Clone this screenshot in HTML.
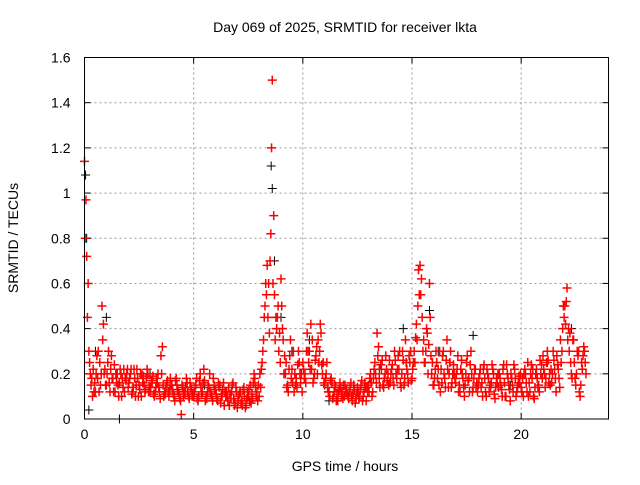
<!DOCTYPE html>
<html><head><meta charset="utf-8"><style>
body{margin:0;background:#fff}
svg text{font-family:"Liberation Sans",sans-serif;font-size:14px;fill:#000}
</style></head><body>
<svg id="chart" width="640" height="480" xmlns="http://www.w3.org/2000/svg">
<text x="345" y="32" text-anchor="middle">Day 069 of 2025, SRMTID for receiver lkta</text>
<text transform="translate(18,238) rotate(-90)" text-anchor="middle">SRMTID / TECUs</text>
<text x="345" y="471" text-anchor="middle">GPS time / hours</text>
<g id="grid"></g>
<g id="ticks"></g>
<g id="black" stroke="#000" stroke-width="1"></g>
<g id="red" stroke="#f00" stroke-width="1.5"></g>
<rect x="84.5" y="57.5" width="524" height="361.5" fill="none" stroke="#000" stroke-width="1"/>
</svg>
<script>
const xTicks=[0,5,10,15,20];
const yTicks=[0,0.2,0.4,0.6,0.8,1,1.2,1.4,1.6];
const yTickLabels=["0","0.2","0.4","0.6","0.8","1","1.2","1.4","1.6"];
const redA=[1.14,0.72,0.3,0.15,0.22,0.12,0.18,0.25,0.5,0.2,
0.15,0.3,0.22,0.18,0.12,0.2,0.16,0.1,0.22,0.17,
0.14,0.2,0.12,0.18,0.22,0.15,0.1,0.19,0.13,0.2,
0.12,0.16,0.1,0.18,0.14,0.28,0.15,0.11,0.17,0.13,
0.15,0.1,0.18,0.12,0.08,0.14,0.11,0.16,0.09,0.13,
0.1,0.15,0.08,0.2,0.12,0.17,0.09,0.14,0.11,0.18,
0.13,0.08,0.15,0.1,0.06,0.12,0.14,0.09,0.16,0.07,
0.05,0.11,0.08,0.14,0.06,0.1,0.15,0.09,0.18,0.12,
0.1,0.22,0.35,0.6,0.45,0.7,1.5,0.55,0.4,0.3,
0.62,0.35,0.2,0.15,0.28,0.22,0.12,0.18,0.3,0.16,
0.25,0.2,0.38,0.3,0.22,0.18,0.28,0.35,0.42,0.2,
0.15,0.25,0.12,0.18,0.1,0.14,0.08,0.16,0.12,0.1,
0.13,0.09,0.16,0.11,0.07,0.14,0.1,0.17,0.12,0.08,
0.15,0.2,0.12,0.25,0.38,0.18,0.22,0.14,0.28,0.2,
0.16,0.24,0.3,0.18,0.22,0.14,0.26,0.35,0.2,0.25,
0.18,0.3,0.42,0.66,0.55,0.3,0.25,0.38,0.6,0.2,
0.15,0.3,0.22,0.12,0.28,0.18,0.35,0.2,0.14,0.24,
0.16,0.28,0.12,0.2,0.1,0.25,0.18,0.3,0.14,0.22,
0.12,0.2,0.16,0.24,0.1,0.18,0.14,0.22,0.09,0.16,
0.2,0.13,0.24,0.1,0.18,0.08,0.15,0.22,0.12,0.19,
0.14,0.1,0.2,0.25,0.12,0.18,0.09,0.22,0.15,0.2,
0.28,0.14,0.3,0.2,0.16,0.26,0.12,0.22,0.35,0.4,
0.5,0.58,0.3,0.2,0.35,0.15,0.28,0.1,0.22,0.3];
const redB=[0.97,0.6,0.2,0.1,0.16,0.28,0.12,0.2,0.42,0.15,
0.25,0.12,0.18,0.24,0.16,0.1,0.2,0.14,0.18,0.22,
0.18,0.11,0.22,0.15,0.1,0.2,0.16,0.12,0.22,0.14,
0.17,0.11,0.14,0.2,0.09,0.32,0.12,0.16,0.1,0.15,
0.11,0.17,0.13,0.09,0.15,0.12,0.18,0.1,0.14,0.11,
0.14,0.09,0.17,0.11,0.22,0.1,0.15,0.12,0.08,0.13,
0.09,0.14,0.11,0.16,0.1,0.08,0.11,0.15,0.06,0.12,
0.1,0.07,0.13,0.05,0.12,0.08,0.11,0.2,0.1,0.15,
0.14,0.3,0.5,0.68,0.38,1.2,0.9,0.45,0.5,0.25,
0.4,0.28,0.14,0.22,0.18,0.3,0.15,0.24,0.2,0.12,
0.18,0.3,0.25,0.42,0.16,0.26,0.2,0.3,0.24,0.16,
0.2,0.12,0.17,0.09,0.15,0.11,0.13,0.1,0.15,0.12,
0.1,0.14,0.08,0.13,0.11,0.09,0.15,0.1,0.14,0.12,
0.18,0.1,0.22,0.16,0.32,0.24,0.15,0.2,0.17,0.26,
0.22,0.15,0.2,0.28,0.16,0.3,0.18,0.22,0.28,0.17,
0.25,0.36,0.5,0.68,0.45,0.25,0.4,0.33,0.28,0.15,
0.22,0.18,0.3,0.16,0.2,0.26,0.14,0.3,0.2,0.18,
0.22,0.15,0.26,0.14,0.2,0.17,0.24,0.12,0.22,0.16,
0.18,0.14,0.22,0.12,0.2,0.15,0.24,0.11,0.18,0.14,
0.15,0.22,0.1,0.2,0.13,0.18,0.24,0.1,0.16,0.2,
0.18,0.22,0.12,0.16,0.24,0.1,0.2,0.14,0.26,0.18,
0.2,0.25,0.16,0.22,0.3,0.18,0.24,0.14,0.3,0.45,
0.52,0.4,0.25,0.35,0.18,0.3,0.12,0.25,0.32,0.2];
const redC=[0.8,0.45,0.25,0.18,0.12,0.2,0.3,0.15,0.35,0.22,
0.2,0.16,0.28,0.12,0.2,0.15,0.22,0.18,0.12,0.2,
0.16,0.22,0.14,0.1,0.18,0.13,0.2,0.15,0.18,0.12,
0.14,0.19,0.12,0.16,0.12,0.2,0.1,0.14,0.12,0.18,
0.13,0.08,0.15,0.11,0.02,0.1,0.14,0.12,0.16,0.1,
0.12,0.18,0.1,0.14,0.16,0.08,0.12,0.2,0.1,0.15,
0.11,0.16,0.07,0.13,0.12,0.1,0.06,0.12,0.09,0.14,
0.08,0.12,0.06,0.1,0.09,0.13,0.07,0.16,0.14,0.08,
0.2,0.25,0.45,0.55,0.6,0.82,0.6,0.35,0.45,0.38,
0.5,0.2,0.25,0.12,0.35,0.16,0.2,0.14,0.25,0.2,
0.22,0.16,0.3,0.22,0.35,0.2,0.32,0.25,0.38,0.25,
0.18,0.14,0.1,0.16,0.12,0.08,0.12,0.14,0.09,0.15,
0.11,0.12,0.1,0.15,0.09,0.12,0.13,0.08,0.16,0.14,
0.12,0.16,0.18,0.2,0.28,0.14,0.26,0.18,0.22,0.15,
0.2,0.18,0.26,0.22,0.3,0.2,0.15,0.25,0.16,0.3,
0.22,0.25,0.35,0.55,0.62,0.35,0.3,0.2,0.45,0.25,
0.18,0.25,0.15,0.22,0.3,0.14,0.22,0.25,0.16,0.2,
0.2,0.12,0.22,0.18,0.15,0.28,0.12,0.2,0.18,0.14,
0.15,0.22,0.1,0.18,0.22,0.12,0.16,0.2,0.14,0.2,
0.18,0.1,0.16,0.24,0.15,0.2,0.12,0.18,0.14,0.16,
0.12,0.2,0.16,0.1,0.2,0.22,0.14,0.18,0.12,0.24,
0.22,0.18,0.26,0.15,0.2,0.22,0.28,0.18,0.25,0.5,
0.42,0.35,0.38,0.18,0.25,0.2,0.3,0.15,0.28,0.25];
const blackT=[0.05,0.1,0.2,0.5,1.0,1.6,3.0,5.5,8.55,8.6,8.7,9.0,9.5,10.3,11.2,13.5,14.6,15.8,16.2,17.8,19.5,21.2,22.3,22.8];
const blackV=[1.08,0.8,0.04,0.3,0.45,0.0,0.2,0.15,1.12,1.02,0.7,0.45,0.3,0.35,0.08,0.22,0.4,0.48,0.3,0.37,0.15,0.25,0.4,0.22];

const X0=84.5,X1=608.5,Y0=419,Y1=57.5;
const xs=t=>X0+(t/24)*(X1-X0);
const ys=v=>Y0-(v/1.6)*(Y0-Y1);
const NS="http://www.w3.org/2000/svg";
function mk(tag,attrs,parent){const e=document.createElementNS(NS,tag);for(const k in attrs)e.setAttribute(k,attrs[k]);parent.appendChild(e);return e;}
const grid=document.getElementById('grid'),ticks=document.getElementById('ticks');
xTicks.forEach(t=>{const x=xs(t);
 if(t>0){const g=mk('line',{x1:x,x2:x,y1:Y1,y2:Y0,stroke:'#999','stroke-dasharray':'2,3'},grid);
 
 }
 const l=mk('text',{x:x,y:Y0+20,'text-anchor':'middle'},ticks);l.textContent=t;
 
 
 mk('line',{x1:x,x2:x,y1:Y0,y2:Y0-6,stroke:'#000'},ticks);
 mk('line',{x1:x,x2:x,y1:Y1,y2:Y1+6,stroke:'#000'},ticks);
});
yTicks.forEach((v,i)=>{const y=ys(v);
 if(v>0&&v<1.6){const g=mk('line',{x1:X0,x2:X1,y1:y,y2:y,stroke:'#999','stroke-dasharray':'2,3'},grid);
 
 }
 const l=mk('text',{x:X0-14,y:y+5,'text-anchor':'end'},ticks);l.textContent=yTickLabels[i];
 
 
 mk('line',{x1:X0,x2:X0+6,y1:y,y2:y,stroke:'#000'},ticks);
 mk('line',{x1:X1,x2:X1-6,y1:y,y2:y,stroke:'#000'},ticks);
});
function cross(g,t,v,name){const x=xs(t),y=ys(v);
 const p=mk('path',{d:`M${x-4.5},${y}H${x+4.5}M${x},${y-4.5}V${y+4.5}`,fill:'none'},g);
 
 }
const bg=document.getElementById('black');
blackT.forEach((t,i)=>cross(bg,t,blackV[i],'black-point'));
const rg=document.getElementById('red');
redA.forEach((v,i)=>cross(rg,i*0.1,v,'red-point'));
redC.forEach((v,i)=>cross(rg,i*0.1+0.033,v,'red-point'));
redB.forEach((v,i)=>cross(rg,i*0.1+0.067,v,'red-point'));
</script>
</body></html>
